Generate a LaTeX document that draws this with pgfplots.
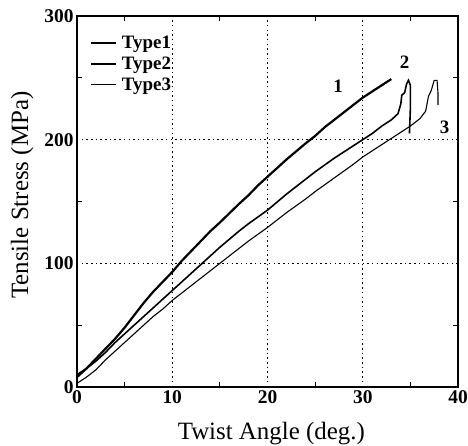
\documentclass[border=0pt]{standalone}
\usepackage{pgfplots}
\pgfplotsset{compat=1.18}
\usepackage{fontspec}
\setmainfont{Liberation Serif}
\newcommand{\lf}{\fontsize{19}{19}\selectfont\bfseries}

\begin{document}
\begin{tikzpicture}
\begin{axis}[
  name=ax,
  scale only axis,
  width=381bp,height=371bp,
  xmin=0,xmax=40,ymin=0,ymax=300,
  xtick={0,10,20,30,40},ytick={0,100,200,300},
  minor xtick={5,15,25,35},minor ytick={50,150,250},
  tick align=inside,
  major tick length=0pt,minor tick length=5pt,
  grid=major,
  major grid style={black,line width=1.5pt,dash pattern=on 1.5pt off 3.2pt},
  axis line style={line width=1.7pt},
  every minor tick/.style={line width=1.2pt,black},
  /pgf/number format/assume math mode=true,
  ticklabel style={font=\fontsize{19.5}{19.5}\selectfont\bfseries},
  xlabel={Twist Angle (deg.)},
  ylabel={Tensile Stress (MPa)},
  label style={font=\fontsize{25}{27}\selectfont},
  xlabel style={at={(axis description cs:0.51,-0.125)},anchor=center},
  ylabel style={at={(axis description cs:-0.144,0.517)},anchor=center},
  legend style={at={(axis description cs:0.025,0.955)},anchor=north west,draw=none,fill=none,
    font=\lf,nodes={inner sep=1pt,font=\lf},row sep=5pt,column sep=4pt},
  legend cell align=left,
  legend image code/.code={\draw[#1] (0pt,0pt) -- (25bp,0pt);},
]
\addplot[black,line width=2.2pt] coordinates {
(0,8)(1,15)(2,23)(3,31)(4,39)(5,48)(6,58)(7,68)(8,77)(9,85)(10,93)
(11,102)(12,110)(13,118)(14,126)(15,133)(17,148)(18,155)(19,163)(20,170)
(22,184)(24,197)(25,203)(26,210)(28,222)(30,234)(31,239)(32,244)(33,249)};
\addlegendentry{\lf Type1}
\addplot[black,line width=1.6pt] coordinates {
(0,10)(1,15)(2,21)(3,28)(4,36)(5,43)(6,50)(7,57)(8,64)(9,71)(10,78)
(12,92)(14,106)(15,113)(17,126)(18,132)(20,143)(22,156)(24,168)(25,174)
(27,185)(29,195)(30,200)(31,205)(32,211)(33,216)(33.7,221)(34.0,229)
(34.1,236)(34.4,238)(34.6,245)(34.8,248)(35.0,244)(35.0,225)(34.9,205)};
\addlegendentry{\lf Type2}
\addplot[black,line width=1.1pt] coordinates {
(0,3)(1,8)(2,14)(3,22)(4,29)(5,36)(6,43)(7,50)(8,57)(9,63)(10,70)
(12,82)(14,94)(15,100)(17,112)(18,118)(20,129)(22,141)(24,152)(25,158)
(27,169)(29,180)(30,186)(31,191)(33,201)(35,211)(36,217)(36.6,223)
(36.9,235)(37.2,240)(37.5,248)(37.8,248)(37.9,238)(37.9,228)};
\addlegendentry{\lf Type3}
\node[font=\lf] at (axis cs:27.4,243) {1};
\node[font=\lf] at (axis cs:34.4,263) {2};
\node[font=\lf] at (axis cs:38.6,210) {3};
\end{axis}
\pgfresetboundingbox
\path ([shift={(-77bp,-59bp)}]ax.south west) rectangle ([shift={(10bp,16bp)}]ax.north east);
\end{tikzpicture}
\end{document}
